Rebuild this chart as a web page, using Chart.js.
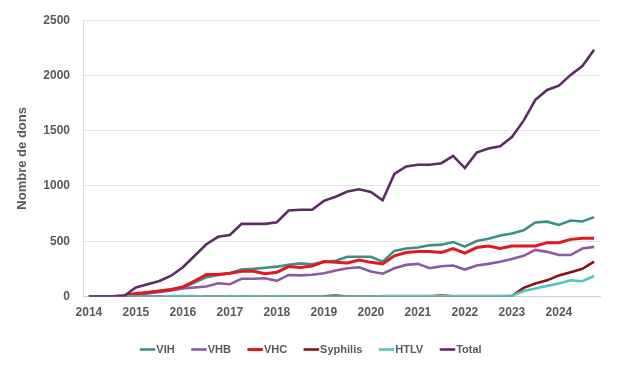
<!DOCTYPE html>
<html><head><meta charset="utf-8">
<script src="https://cdn.jsdelivr.net/npm/chart.js@4/dist/chart.umd.min.js"></script>
<style>html,body{margin:0;padding:0;background:#fff;}canvas{display:block;}</style>
</head><body>
<canvas id="c" width="624" height="365"></canvas>
<script>
const quarters = [
 '2014 T1','2014 T2','2014 T3','2014 T4','2015 T1','2015 T2','2015 T3','2015 T4',
 '2016 T1','2016 T2','2016 T3','2016 T4','2017 T1','2017 T2','2017 T3','2017 T4',
 '2018 T1','2018 T2','2018 T3','2018 T4','2019 T1','2019 T2','2019 T3','2019 T4',
 '2020 T1','2020 T2','2020 T3','2020 T4','2021 T1','2021 T2','2021 T3','2021 T4',
 '2022 T1','2022 T2','2022 T3','2022 T4','2023 T1','2023 T2','2023 T3','2023 T4',
 '2024 T1','2024 T2','2024 T3','2024 T4'];
const yearTicks = ['2014','2015','2016','2017','2018','2019','2020','2021','2022','2023','2024'];

const vih = [0,0,0,3,20,38,52,64,80,125,175,195,210,245,250,260,270,288,300,292,312,324,360,360,360,315,413,434,443,463,469,493,451,502,522,552,570,599,670,677,647,688,679,718];
const vhb = [0,0,0,2,15,28,40,55,73,82,90,120,111,160,160,165,142,195,191,197,210,235,256,265,226,206,256,286,295,256,274,280,244,280,295,315,339,368,422,404,375,375,434,449];
const vhc = [0,0,0,10,28,37,49,64,87,140,200,200,211,229,229,206,220,271,262,276,316,309,303,330,309,295,368,398,407,407,398,434,392,443,457,434,457,457,457,487,487,517,526,526];
const syphilis = [0,0,0,0,0,0,0,0,0,0,0,0,0,0,0,0,0,0,0,0,2,8,0,0,0,0,0,0,0,2,8,2,0,0,0,0,5,78,117,146,191,220,250,315];
const htlv = [0,0,0,0,0,0,0,3,5,3,0,0,3,0,3,0,3,0,0,0,0,0,0,0,0,3,3,3,3,3,3,3,3,3,3,3,8,49,73,96,117,146,138,185];
const total = [0,0,0,5,82,111,140,188,265,369,473,540,556,657,657,657,672,778,785,785,865,903,950,970,946,870,1109,1177,1192,1192,1206,1272,1162,1302,1339,1360,1443,1591,1780,1869,1908,2005,2085,2233];

const seriesNames = ['VIH','VHB','VHC','Syphilis','HTLV','Total'];
const seriesData = [vih, vhb, vhc, syphilis, htlv, total];
const seriesColors = ['#3a8f86','#8c5aa0','#e2171f','#8e0f14','#52c6bc','#5c2d63'];
const seriesWidths = [2.6,2.6,3,2.6,2.6,2.6];

const FONT = "'Liberation Sans', Arial, sans-serif";
const GREY = '#595959';

const datasets = seriesNames.map((n, i) => ({
  label: n,
  data: seriesData[i],
  borderColor: seriesColors[i],
  backgroundColor: seriesColors[i],
  borderWidth: seriesWidths[i],
  pointRadius: 0,
  tension: 0,
  fill: false,
  order: seriesNames.length - 1 - i
}));

const legendShift = {
  id: 'legendShift',
  afterLayout(chart) {
    const l = chart.legend;
    if (l) { l.left += 13; l.right += 13; }
  }
};

new Chart(document.getElementById('c'), {
  type: 'line',
  data: { labels: quarters, datasets },
  plugins: [legendShift],
  options: {
    responsive: false,
    animation: false,
    devicePixelRatio: 1,
    layout: { padding: { top: 15, right: 24, left: 0, bottom: 0 } },
    plugins: {
      tooltip: { enabled: false },
      legend: {
        position: 'bottom',
        labels: {
          usePointStyle: true,
          pointStyle: 'line',
          boxWidth: 6.5,
          boxHeight: 11,
          padding: 21,
          color: GREY,
          font: { family: FONT, size: 11, weight: 'bold' },
          sort: (a, b) => a.datasetIndex - b.datasetIndex
        }
      }
    },
    scales: {
      x: {
        type: 'category',
        offset: true,
        grid: { display: false, drawTicks: false },
        border: { display: true, color: '#d0d0d0', width: 1 },
        ticks: {
          autoSkip: false,
          maxRotation: 0,
          padding: 9,
          color: GREY,
          font: { family: FONT, size: 12, weight: 'bold' },
          callback: (v, idx) => (idx % 4 === 0 ? yearTicks[idx / 4] : '')
        },
        afterFit: (s) => { s.height = 26.5; }
      },
      y: {
        min: 0, max: 2500,
        grid: { color: '#e3e3e3', lineWidth: 1, drawTicks: false },
        border: { display: true, color: '#d9d9d9', width: 1 },
        ticks: {
          stepSize: 500,
          padding: 13,
          color: GREY,
          font: { family: FONT, size: 12, weight: 'bold' },
          callback: (v) => String(v)
        },
        title: {
          display: true,
          text: 'Nombre de dons',
          color: GREY,
          padding: { top: 15, bottom: 0 },
          font: { family: FONT, size: 13, weight: 'bold' }
        },
        afterFit: (s) => { s.width = 83; }
      }
    }
  }
});
</script>
</body></html>
